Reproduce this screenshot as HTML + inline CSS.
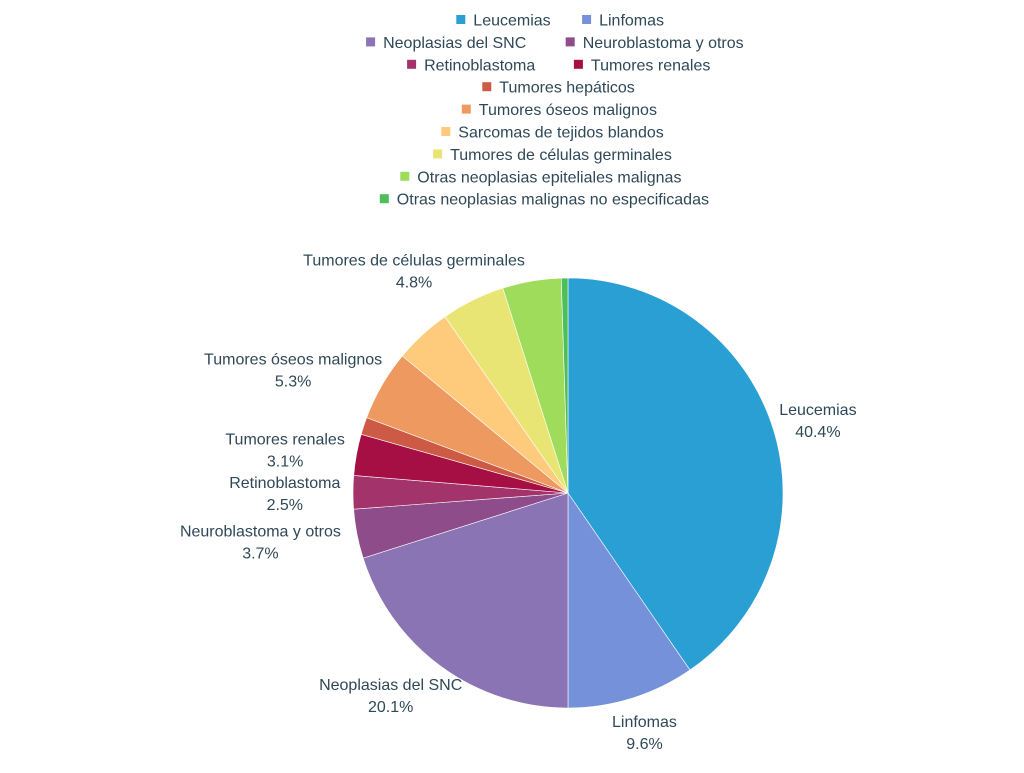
<!DOCTYPE html>
<html><head><meta charset="utf-8"><style>
body{margin:0;background:#fff;}
svg text{font-family:"Liberation Sans",sans-serif;font-size:16px;fill:#2f4858;}
</style></head><body>
<svg id="chart" width="1024" height="768"></svg>
<script>
const categories=["Leucemias","Linfomas","Neoplasias del SNC","Neuroblastoma y otros","Retinoblastoma","Tumores renales","Tumores hepáticos","Tumores óseos malignos","Sarcomas de tejidos blandos","Tumores de células germinales","Otras neoplasias epiteliales malignas","Otras neoplasias malignas no especificadas"];
const values=[40.4,9.6,20.1,3.7,2.5,3.1,1.3,5.3,4.3,4.8,4.4,0.5];
const showLabel=[true,true,true,true,true,true,false,true,false,true,false,false];
const colors=["#2a9fd4","#7591da","#8a74b4","#8e4d8a","#a3336b","#a50f43","#cc5a45","#ee9960","#fdcb7b","#e8e574","#a0dc5c","#4cbf5c"];
const legendRows=[[0,1],[2,3],[4,5],[6],[7],[8],[9],[10],[11]];
const NS="http://www.w3.org/2000/svg";
const svg=document.getElementById('chart');
const cx=568,cy=493,R=215;
const total=values.reduce((a,b)=>a+b,0);
function mk(t,a){const e=document.createElementNS(NS,t);for(const k in a)e.setAttribute(k,a[k]);return e;}
const g=mk('g',{});


svg.appendChild(g);
let acc=0;
values.forEach((v,i)=>{
  const a0=acc/total*2*Math.PI,a1=(acc+v)/total*2*Math.PI;acc+=v;
  const x0=cx+R*Math.sin(a0),y0=cy-R*Math.cos(a0),x1=cx+R*Math.sin(a1),y1=cy-R*Math.cos(a1);
  const p=mk('path',{d:`M${cx},${cy}L${x0},${y0}A${R},${R} 0 ${(a1-a0)>Math.PI?1:0} 1 ${x1},${y1}Z`,fill:colors[i],stroke:'#fff','stroke-width':0.6});
  
  
  g.appendChild(p);
  if(showLabel[i]){
    const am=(a0+a1)/2,s=Math.sin(am),c=Math.cos(am);
    const px=cx+(R+8)*s,py=cy-(R+8)*c;
    const hw=categories[i].length*4.3;
    const x=px+s*hw,yc=py-c*26;
    const t=mk('text',{x:x,y:yc-4,'text-anchor':'middle'});
    
    
    const t1=mk('tspan',{x:x});t1.textContent=categories[i];
    const t2=mk('tspan',{x:x,dy:22});t2.textContent=v.toFixed(1)+'%';
    t.appendChild(t1);t.appendChild(t2);svg.appendChild(t);
  }
});
const lg=mk('g',{});


svg.appendChild(lg);
legendRows.forEach((row,r)=>{
  const y=20+r*22.4;
  const widths=row.map(i=>categories[i].length*8.2+22);
  const gap=30;
  const tw=widths.reduce((a,b)=>a+b,0)+gap*(row.length-1);
  let x=563-tw/2;
  row.forEach((i,k)=>{
    const e=mk('g',{});
    
    
    e.appendChild(mk('rect',{x:x,y:y-5,width:9,height:9,fill:colors[i]}));
    const t=mk('text',{x:x+17,y:y+5.5});t.textContent=categories[i];
    e.appendChild(t);lg.appendChild(e);
    x+=widths[k]+gap;
  });
});
</script>
</body></html>
